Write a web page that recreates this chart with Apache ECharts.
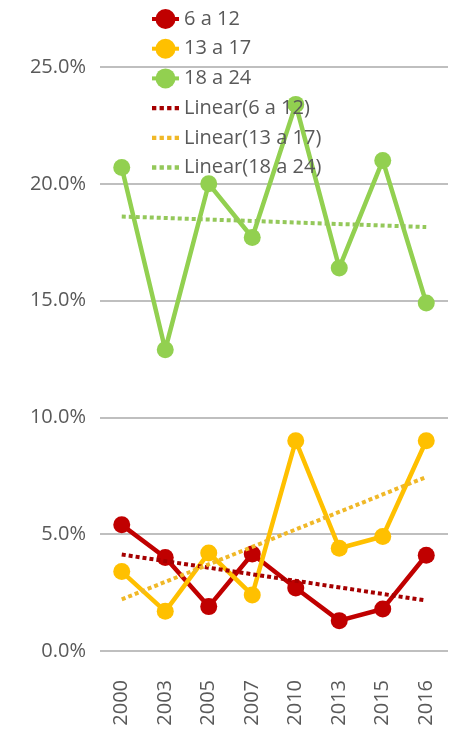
<!DOCTYPE html>
<html><head><meta charset="utf-8">
<script src="https://cdn.jsdelivr.net/npm/echarts@6/dist/echarts.min.js"></script>
<style>html,body{margin:0;padding:0;background:#fff}#c{width:455px;height:734px}</style>
</head><body><div id="c"></div>
<script>
const categories = ['2000','2003','2005','2007','2010','2013','2015','2016'];
const s6a12  = [5.4, 4.0, 1.9, 4.15, 2.7, 1.3, 1.8, 4.1];
const s13a17 = [3.4, 1.7, 4.2, 2.4, 9.0, 4.4, 4.9, 9.0];
const s18a24 = [20.7, 12.9, 20.0, 17.7, 23.4, 16.4, 21.0, 14.9];
const trend6a12  = [4.13, 2.16];
const trend13a17 = [2.21, 7.45];
const trend18a24 = [18.6, 18.15];
const yTicks = [0, 5, 10, 15, 20, 25];

const font = '"Open Sans", sans-serif';
const txt = '#595959';
const dotsIcon = 'path://M0,0h4v4h-4z M7,0h4v4h-4z M14,0h4v4h-4z M21,0h4v4h-4z';
const chart = echarts.init(document.getElementById('c'), null, {renderer:'canvas'});
function dataSeries(name, data, color){
  return {name, type:'line', data, symbol:'circle', symbolSize:17,
    lineStyle:{color, width:4.5}, itemStyle:{color},
    emphasis:{disabled:true}, animation:false, z:3};
}
function trendSeries(name, pair, color){
  return {name, type:'line', data:[[categories[0], pair[0]],[categories[categories.length-1], pair[1]]],
    symbol:'none', lineStyle:{color, width:4, type:[4,3]}, itemStyle:{color},
    emphasis:{disabled:true}, animation:false, z:4};
}
chart.setOption({
  animation:false,
  grid:{left:100, right:7, top:67, bottom:83, containLabel:false},
  legend:{orient:'vertical', left:150, top:9, padding:0, itemWidth:27, itemHeight:25, itemGap:9.7,
    lineStyle:{width:4},
    textStyle:{fontFamily:font, fontSize:20, color:txt},
    data:['6 a 12','13 a 17','18 a 24',
      {name:'Linear(6 a 12)', icon:dotsIcon},
      {name:'Linear(13 a 17)', icon:dotsIcon},
      {name:'Linear(18 a 24)', icon:dotsIcon}]},
  xAxis:{type:'category', data:categories, boundaryGap:true,
    axisLine:{show:false}, axisTick:{show:false},
    axisLabel:{rotate:90, margin:29, fontFamily:font, fontSize:20, color:txt}},
  yAxis:{type:'value', min:yTicks[0], max:yTicks[yTicks.length-1], interval:5,
    axisLine:{show:false}, axisTick:{show:false},
    splitLine:{lineStyle:{color:'#BFBFBF', width:2}},
    axisLabel:{margin:14, fontFamily:font, fontSize:20, color:txt, formatter:v=>v.toFixed(1)+'%'}},
  series:[
    dataSeries('6 a 12', s6a12, '#C00000'),
    dataSeries('13 a 17', s13a17, '#FFC000'),
    dataSeries('18 a 24', s18a24, '#92D050'),
    trendSeries('Linear(6 a 12)', trend6a12, '#A50000'),
    trendSeries('Linear(13 a 17)', trend13a17, '#F0B828'),
    trendSeries('Linear(18 a 24)', trend18a24, '#94C85A')
  ]
});
</script></body></html>
